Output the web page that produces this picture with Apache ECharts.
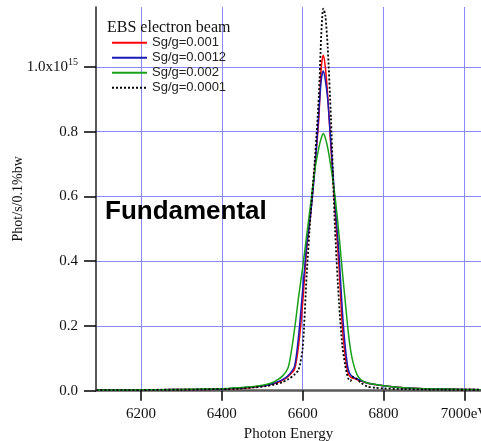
<!DOCTYPE html>
<html>
<head>
<meta charset="utf-8">
<script src="https://cdn.jsdelivr.net/npm/echarts@6/dist/echarts.min.js"></script>
<style>
html,body{margin:0;padding:0;background:#fff;}
#c{width:481px;height:441px;}
</style>
</head>
<body>
<div id="c"></div>
<script>
// Photon energy (eV)
const energy = [6090, 6150, 6200, 6250, 6300, 6350, 6400, 6440, 6480, 6510, 6530, 6550, 6565, 6580, 6590, 6600, 6610, 6620, 6630, 6640, 6646, 6651, 6656, 6662, 6670, 6680, 6690, 6698, 6705, 6712, 6718, 6725, 6735, 6745, 6760, 6780, 6800, 6850, 6900, 6950, 7000, 7040];
// Flux in units of 1e15 Phot/s/0.1%bw
const s0001 = [0.002, 0.002, 0.003, 0.003, 0.004, 0.004, 0.005, 0.007, 0.011, 0.016, 0.022, 0.032, 0.045, 0.066, 0.14, 0.27, 0.44, 0.55, 0.69, 0.84, 1.0, 1.036, 1.0, 0.91, 0.75, 0.56, 0.38, 0.2, 0.11, 0.056, 0.042, 0.038, 0.034, 0.03, 0.023, 0.019, 0.015, 0.009, 0.006, 0.005, 0.004, 0.003];
const s00012 = [0.002, 0.002, 0.003, 0.003, 0.004, 0.004, 0.005, 0.008, 0.012, 0.017, 0.024, 0.034, 0.048, 0.076, 0.17, 0.31, 0.45, 0.55, 0.68, 0.86, 0.96, 0.987, 0.96, 0.9, 0.76, 0.58, 0.42, 0.25, 0.14, 0.07, 0.05, 0.042, 0.036, 0.031, 0.024, 0.019, 0.015, 0.009, 0.006, 0.005, 0.004, 0.003];
const s0002 = [0.002, 0.002, 0.003, 0.003, 0.004, 0.005, 0.006, 0.009, 0.013, 0.019, 0.028, 0.045, 0.075, 0.19, 0.29, 0.38, 0.48, 0.58, 0.68, 0.75, 0.78, 0.794, 0.78, 0.75, 0.69, 0.6, 0.48, 0.37, 0.28, 0.19, 0.13, 0.085, 0.048, 0.033, 0.024, 0.019, 0.015, 0.009, 0.006, 0.005, 0.004, 0.003];
const s00001 = [0.002, 0.002, 0.002, 0.003, 0.003, 0.004, 0.005, 0.006, 0.01, 0.014, 0.019, 0.026, 0.036, 0.05, 0.065, 0.13, 0.36, 0.55, 0.71, 0.91, 1.1, 1.18, 1.16, 1.06, 0.84, 0.5, 0.27, 0.14, 0.08, 0.04, 0.03, 0.043, 0.035, 0.024, 0.013, 0.009, 0.007, 0.005, 0.004, 0.003, 0.003, 0.003];
const seriesNames = ['Sg/g=0.001', 'Sg/g=0.0012', 'Sg/g=0.002', 'Sg/g=0.0001'];
const xTicks = [6200, 6400, 6600, 6800, 7000];
const yTicks = [0, 0.2, 0.4, 0.6, 0.8, 1.0];

const serif = "'Liberation Serif', 'Times New Roman', serif";
const sans = "'Liberation Sans', Arial, sans-serif";
const pairs = arr => energy.map((e, i) => [e, arr[i]]);

const chart = echarts.init(document.getElementById('c'), null, {renderer: 'canvas'});
const gridColor = '#8a8aff';
const mk = (name, data, color, type, width) => ({
  name, type: 'line', data: pairs(data), symbol: 'none', smooth: 0.25,
  lineStyle: {color, width: width || 1.5, type: type || 'solid'},
  itemStyle: {color},
  z: 3
});

chart.setOption({
  animation: false,
  backgroundColor: '#ffffff',
  grid: {left: 96, top: 7, right: 0, bottom: 50.3, containLabel: false, outerBoundsMode: 'none'},
  title: {
    text: 'EBS electron beam', left: 107, top: 20, padding: 0,
    textStyle: {fontFamily: serif, fontSize: 16, fontWeight: 'normal', color: '#111'}
  },
  legend: {
    orient: 'vertical', left: 111, top: 35.2, padding: 0, itemGap: 0,
    itemWidth: 35, itemHeight: 10,
    data: seriesNames,
    itemStyle: {color: 'rgba(0,0,0,0)', borderColor: 'rgba(0,0,0,0)', borderWidth: 0},
    textStyle: {fontFamily: sans, fontSize: 13, color: '#222', lineHeight: 15}
  },
  xAxis: {
    type: 'value', min: 6089, max: 7041,
    name: 'Photon Energy', nameLocation: 'middle', nameGap: 33,
    nameTextStyle: {fontFamily: serif, fontSize: 15, color: '#111'},
    axisLine: {show: true, onZero: false, lineStyle: {color: '#5a5a5a', width: 2.5}},
    axisTick: {show: true, customValues: xTicks, inside: false, length: 10, lineStyle: {color: '#000', width: 1.5}},
    axisLabel: {customValues: xTicks, margin: 16, fontFamily: serif, fontSize: 15, color: '#111',
      formatter: v => v === 7000 ? '7000eV' : String(v), hideOverlap: false},
    splitLine: {show: true, lineStyle: {color: gridColor, width: 1}}
  },
  yAxis: {
    type: 'value', min: 0, max: 1.185,
    name: 'Phot/s/0.1%bw', nameLocation: 'middle', nameGap: 71, nameRotate: 90, nameMoveOverlap: false,
    nameTextStyle: {fontFamily: serif, fontSize: 14, color: '#111'},
    axisLine: {show: true, onZero: false, lineStyle: {color: '#222', width: 1.5}},
    axisTick: {show: true, customValues: yTicks, inside: false, length: 12, lineStyle: {color: '#000', width: 1.5}},
    axisLabel: {customValues: yTicks, margin: 18, fontFamily: serif, fontSize: 15, color: '#111',
      formatter: v => Math.abs(v - 1) < 1e-9 ? '{a|1.0x10}{s|15}' : v.toFixed(1),
      rich: {
        a: {fontFamily: serif, fontSize: 15, color: '#111'},
        s: {fontFamily: serif, fontSize: 10, color: '#111', padding: [0, 0, 9, 0]}
      }
    },
    splitLine: {show: true, lineStyle: {color: gridColor, width: 1}}
  },
  graphic: [{
    type: 'text', left: 105, top: 199, z: 10,
    style: {text: 'Fundamental', font: "bold 26px 'Liberation Sans', Arial, sans-serif", fill: '#000'}
  }],
  series: [
    mk(seriesNames[0], s0001, '#ff0000'),
    mk(seriesNames[1], s00012, '#1a1ab4'),
    mk(seriesNames[2], s0002, '#18a018'),
    mk(seriesNames[3], s00001, '#000000', [2, 2], 1.8)
  ]
});
</script>
</body>
</html>
